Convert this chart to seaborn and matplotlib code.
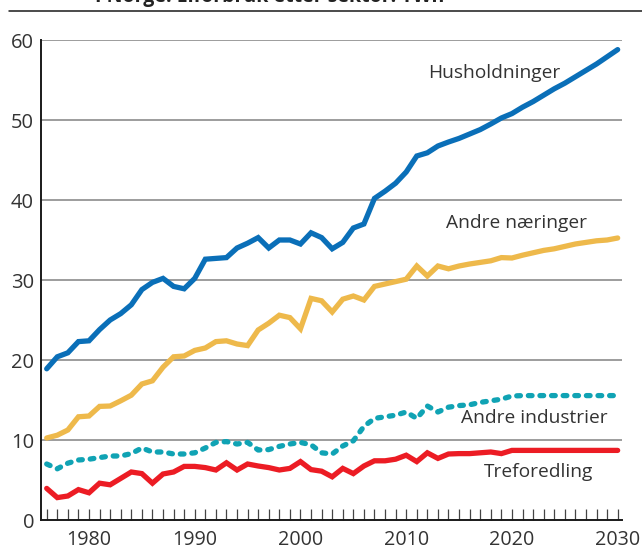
import pandas as pd
import matplotlib.pyplot as plt
import matplotlib.ticker as mticker
from matplotlib.lines import Line2D
import seaborn as sns

# Years 1976-2030
years = list(range(1976, 2031))

husholdninger = [
    18.9, 20.4, 20.9, 22.3, 22.4, 23.8, 25.0, 25.8, 26.9, 28.8,
    29.7, 30.2, 29.2, 28.9, 30.2, 32.6, 32.7, 32.8, 34.0, 34.6,
    35.3, 34.0, 35.0, 35.0, 34.5, 35.9, 35.3, 33.9, 34.7, 36.5,
    37.0, 40.2, 41.1, 42.1, 43.5, 45.5, 45.9, 46.75, 47.25, 47.7,
    48.25, 48.8, 49.5, 50.25, 50.8, 51.6, 52.3, 53.1, 53.9, 54.6,
    55.4, 56.2, 57.0, 57.9, 58.8,
]

andre_naeringer = [
    10.25, 10.6, 11.25, 12.9, 13.0, 14.2, 14.25, 14.9, 15.6, 17.0,
    17.4, 19.1, 20.4, 20.5, 21.2, 21.5, 22.3, 22.4, 22.0, 21.8,
    23.75, 24.6, 25.6, 25.3, 23.9, 27.7, 27.4, 26.0, 27.6, 28.0,
    27.5, 29.2, 29.5, 29.8, 30.1, 31.75, 30.5, 31.75, 31.4, 31.75,
    32.0, 32.2, 32.4, 32.8, 32.75, 33.1, 33.4, 33.7, 33.9, 34.2,
    34.5, 34.7, 34.9, 35.0, 35.25,
]

andre_industrier = [
    7.0, 6.4, 7.1, 7.5, 7.6, 7.8, 8.0, 8.0, 8.3, 9.0,
    8.5, 8.5, 8.25, 8.25, 8.4, 9.0, 9.7, 9.8, 9.5, 9.7,
    8.75, 8.8, 9.2, 9.5, 9.7, 9.4, 8.4, 8.25, 9.25, 9.9,
    11.7, 12.7, 12.9, 13.1, 13.5, 12.7, 14.25, 13.5, 14.1, 14.3,
    14.4, 14.7, 14.9, 15.1, 15.5, 15.55, 15.55, 15.55, 15.55, 15.55,
    15.55, 15.55, 15.55, 15.55, 15.55,
]

treforedling = [
    3.95, 2.8, 3.0, 3.8, 3.4, 4.6, 4.4, 5.2, 6.0, 5.8,
    4.6, 5.75, 6.0, 6.7, 6.7, 6.55, 6.25, 7.15, 6.25, 7.0,
    6.75, 6.55, 6.25, 6.45, 7.3, 6.3, 6.1, 5.4, 6.45, 5.8,
    6.75, 7.4, 7.4, 7.6, 8.1, 7.3, 8.4, 7.7, 8.25, 8.3,
    8.3, 8.4, 8.5, 8.3, 8.7, 8.7, 8.7, 8.7, 8.7, 8.7,
    8.7, 8.7, 8.7, 8.7, 8.7,
]

series_names = ["Husholdninger", "Andre næringer", "Andre industrier", "Treforedling"]
series_colors = ["#0a6fb8", "#eeb94b", "#10a3b4", "#ec1c24"]
# label anchor (year, value) for the inline series labels
label_pos = [(2012.1, 55.9), (2013.8, 37.1), (2015.2, 12.75), (2017.3, 6.0)]

title_text = "I Norge. Elforbruk etter sektor. TWh"

df = pd.DataFrame({
    "År": years * 4,
    "TWh": husholdninger + andre_naeringer + andre_industrier + treforedling,
    "Sektor": sum([[n] * len(years) for n in series_names], []),
})

sns.set_theme(style="white")
plt.rcParams["font.family"] = ["Open Sans", "DejaVu Sans"]

fig = plt.figure(figsize=(6.42, 5.53), dpi=100)
ax = fig.add_axes([41 / 642, 1 - 520 / 553, 581 / 642, 480 / 553])

# gridlines first, under the data
for v in [10, 20, 30, 40, 50, 60]:
    ax.axhline(v, color="#8c8c8c", linewidth=1.2, zorder=1)

for name, col in zip(series_names, series_colors):
    sub = df[df["Sektor"] == name]
    if name == "Andre industrier":
        sns.lineplot(data=sub, x="År", y="TWh", ax=ax, color=col, linewidth=3.8,
                     linestyle=(0, (0.7, 1.5)), dash_capstyle="round", zorder=3)
    else:
        sns.lineplot(data=sub, x="År", y="TWh", ax=ax, color=col, linewidth=3.8,
                     solid_joinstyle="miter", zorder=3)

for name, (lx, ly) in zip(series_names, label_pos):
    ax.text(lx, ly, name, fontsize=13.8, color="#333333", ha="left", va="center")

ax.set_xlim(1975.46, 2030.41)
ax.set_ylim(0, 60)
ax.set_xlabel("")
ax.set_ylabel("")

ax.xaxis.set_major_locator(mticker.MultipleLocator(10))
ax.xaxis.set_minor_locator(mticker.MultipleLocator(1))
ax.yaxis.set_major_locator(mticker.MultipleLocator(10))
ax.tick_params(axis="x", which="both", direction="in", length=8, width=0.9,
               color="#444444", pad=7, labelsize=14.2, labelcolor="#333333", bottom=True)
ax.tick_params(axis="y", length=0, pad=5, labelsize=14.5, labelcolor="#333333")

for side in ["top", "right"]:
    ax.spines[side].set_visible(False)
for side in ["left", "bottom"]:
    ax.spines[side].set_color("#1a1a1a")
    ax.spines[side].set_linewidth(1.4)

# clipped heading and rule at the very top
fig.text(95 / 642, 1 - 2 / 553, title_text, fontsize=14, fontweight="bold",
         color="#222222", ha="left", va="baseline")
fig.add_artist(Line2D([9 / 642, 1], [1 - 11 / 553, 1 - 11 / 553],
                      color="#1a1a1a", linewidth=1.1, transform=fig.transFigure))

fig.savefig("out.png", dpi=100)
